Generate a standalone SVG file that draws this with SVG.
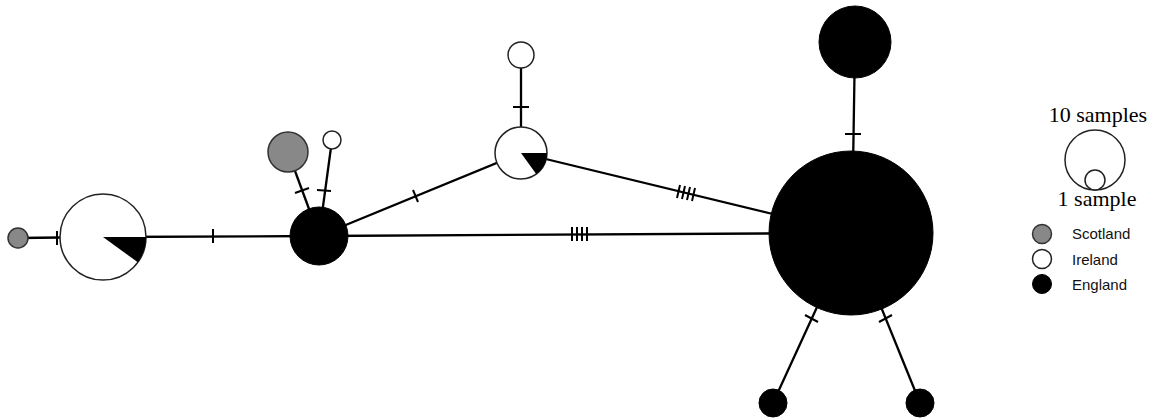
<svg xmlns="http://www.w3.org/2000/svg" width="1157" height="420" viewBox="0 0 1157 420">
<style>
.e{stroke:#000;stroke-width:2.3;fill:none}
.t{stroke:#000;stroke-width:2}
.w{fill:#fff;stroke:#222;stroke-width:1.5}
.g{fill:#888;stroke:#333;stroke-width:1.5}
.b{fill:#000;stroke:#000;stroke-width:1}
.s{font-family:"Liberation Serif",serif;font-size:22px;fill:#000}
.l{font-family:"Liberation Sans",sans-serif;font-size:15px;fill:#111}
</style>
<rect width="1157" height="420" fill="#fff"/>
<g id="connectors">
<line class="e" x1="18" y1="238" x2="103" y2="237"/><line class="t" x1="57" y1="231" x2="57" y2="245"/>
<line class="e" x1="103" y1="237" x2="319" y2="236"/><line class="t" x1="213" y1="229" x2="213" y2="243"/>
<line class="e" x1="288" y1="152" x2="319" y2="236"/><line class="t" x1="295" y1="193" x2="309" y2="188"/>
<line class="e" x1="332" y1="140" x2="319" y2="236"/><line class="t" x1="317" y1="190" x2="331" y2="191"/>
<line class="e" x1="319" y1="236" x2="521" y2="153"/><line class="t" x1="413" y1="190" x2="418" y2="202"/>
<line class="e" x1="521" y1="55" x2="521" y2="153"/><line class="t" x1="513" y1="107" x2="529" y2="107"/>
<line class="e" x1="521" y1="153" x2="851" y2="233"/>
<g class="t"><line x1="677" y1="198" x2="680" y2="185"/><line x1="682" y1="199" x2="685" y2="186"/><line x1="687" y1="200" x2="690" y2="187"/><line x1="692" y1="201" x2="695" y2="188"/></g>
<line class="e" x1="319" y1="236" x2="851" y2="233"/>
<g class="t"><line x1="572" y1="227" x2="572" y2="241"/><line x1="577" y1="227" x2="577" y2="241"/><line x1="582" y1="227" x2="582" y2="241"/><line x1="587" y1="227" x2="587" y2="241"/></g>
<line class="e" x1="855" y1="42" x2="852" y2="233"/><line class="t" x1="845" y1="134" x2="861" y2="134"/>
<line class="e" x1="851" y1="233" x2="773" y2="403"/><line class="t" x1="805" y1="315" x2="818" y2="322"/>
<line class="e" x1="851" y1="233" x2="920" y2="403"/><line class="t" x1="879" y1="322" x2="892" y2="315"/>
</g>
<g id="n-scot-small"><circle class="g" cx="18" cy="238" r="10"/></g>
<g id="n-pie-left"><circle class="w" cx="103" cy="237" r="43"/><path d="M103,237 L146,237 A43,43 0 0 1 137.8,262.3 Z" fill="#000"/></g>
<g id="n-eng-mid"><circle class="b" cx="319" cy="236" r="29"/></g>
<g id="n-scot-mid"><circle class="g" cx="288" cy="152" r="20"/></g>
<g id="n-ire-small"><circle class="w" cx="332" cy="140" r="9"/></g>
<g id="n-pie-top"><circle class="w" cx="521" cy="153" r="26"/><path d="M521,153 L547,153 A26,26 0 0 1 536.2,174.1 Z" fill="#000"/></g>
<g id="n-ire-top"><circle class="w" cx="521" cy="55" r="13"/></g>
<g id="n-eng-big"><circle class="b" cx="851" cy="233" r="82"/></g>
<g id="n-eng-top"><circle class="b" cx="855" cy="42" r="36"/></g>
<g id="n-eng-bl"><circle class="b" cx="773" cy="403" r="14"/></g>
<g id="n-eng-br"><circle class="b" cx="920" cy="403" r="14"/></g>
<g id="legend">
<text class="s" x="1098" y="122" text-anchor="middle">10 samples</text>
<circle class="w" cx="1095" cy="160" r="30"/>
<circle class="w" cx="1095" cy="180" r="10"/>
<text class="s" x="1097" y="206" text-anchor="middle">1 sample</text>
<circle class="g" cx="1042" cy="234" r="9.5"/><text class="l" x="1072" y="239">Scotland</text>
<circle class="w" cx="1042" cy="259" r="9.5"/><text class="l" x="1072" y="265">Ireland</text>
<circle class="b" cx="1042" cy="284" r="9.5"/><text class="l" x="1072" y="290">England</text>
</g>
</svg>
